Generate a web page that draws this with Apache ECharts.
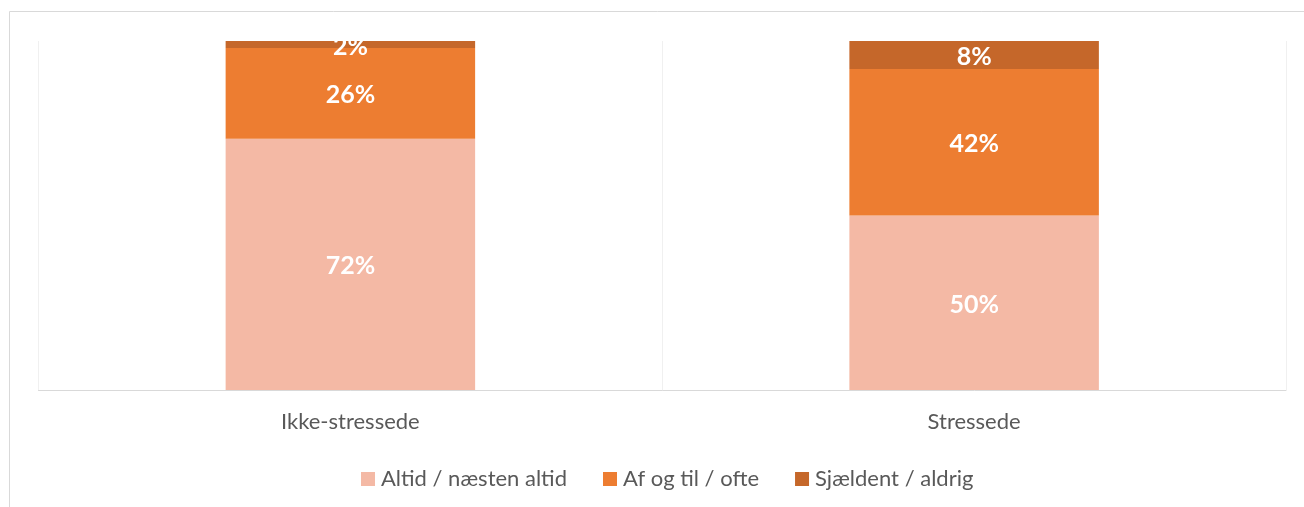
<!DOCTYPE html>
<html>
<head>
<meta charset="utf-8">
<script src="https://cdn.jsdelivr.net/npm/echarts@6/dist/echarts.min.js"></script>
<style>
html,body{margin:0;padding:0;background:#fff;}
#chart{width:1304px;height:507px;}
</style>
</head>
<body>
<div id="chart"></div>
<script>
const categories = ["Ikke-stressede", "Stressede"];
const seriesNames = ["Altid / næsten altid", "Af og til / ofte", "Sjældent / aldrig"];
const altid = [72, 50];
const afOgTil = [26, 42];
const sjaeldent = [2, 8];
const colors = ["#F4B9A5", "#ED7D31", "#C5672A"];

const FONT = "Lato";
const chart = echarts.init(document.getElementById('chart'), null, {renderer: 'canvas'});

function mk(name, data, color) {
  return {
    name: name,
    type: 'bar',
    stack: 'total',
    data: data,
    barWidth: '40%',
    itemStyle: {color: color},
    label: {
      show: true,
      position: 'inside',
      formatter: '{c}%',
      color: '#ffffff',
      fontFamily: FONT,
      fontWeight: 'bold',
      fontSize: 25,
      offset: [0, 2]
    },
    emphasis: {disabled: true}
  };
}

chart.setOption({
  animation: false,
  color: colors,
  graphic: [{
    type: 'rect',
    shape: {x: 10, y: 12, width: 1300, height: 29},
    style: {fill: '#ffffff'},
    silent: true,
    z: 100
  }, {
    type: 'rect',
    shape: {x: 9.5, y: 11.5, width: 1400, height: 600},
    style: {fill: 'none', stroke: '#d9d9d9', lineWidth: 1},
    silent: true,
    z: 101
  }],
  grid: {left: 38.5, right: 18, top: 41, bottom: 117},
  legend: {
    data: seriesNames,
    top: 463,
    left: 356,
    icon: 'rect',
    itemWidth: 14,
    itemHeight: 14,
    itemGap: 36,
    textStyle: {color: '#595959', fontFamily: FONT, fontSize: 22, padding: [0, 0, 0, 1]}
  },
  xAxis: {
    type: 'category',
    data: categories,
    axisLine: {show: true, lineStyle: {color: '#d9d9d9', width: 1}},
    axisTick: {show: false},
    splitLine: {show: true, lineStyle: {color: '#f0f0f0', width: 1}},
    axisLabel: {color: '#595959', fontFamily: FONT, fontSize: 22, margin: 21}
  },
  yAxis: {
    type: 'value',
    min: 0,
    max: 100,
    show: false,
    splitLine: {show: false}
  },
  series: [
    mk(seriesNames[0], altid, colors[0]),
    mk(seriesNames[1], afOgTil, colors[1]),
    mk(seriesNames[2], sjaeldent, colors[2])
  ]
});
</script>
</body>
</html>
